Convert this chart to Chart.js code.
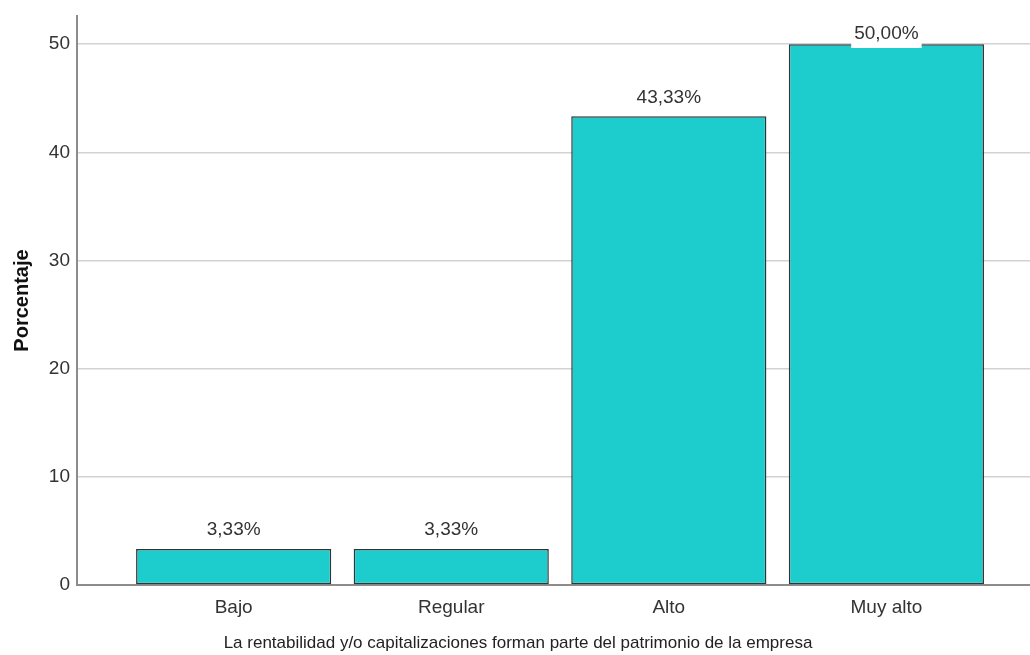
<!DOCTYPE html>
<html>
<head>
<meta charset="utf-8">
<script src="https://cdn.jsdelivr.net/npm/chart.js@4"></script>
<style>
  html, body { margin: 0; padding: 0; background: #fff; }
  #wrap { width: 1030px; height: 655px; }
</style>
</head>
<body>
<div id="wrap"><canvas id="chart" width="1030" height="655"></canvas></div>
<script>
// datos
const categorias = ['Bajo', 'Regular', 'Alto', 'Muy alto'];
const porcentajes = [3.33, 3.33, 43.33, 50.00];
const ticksY = [0, 10, 20, 30, 40, 50];
const tituloX = 'La rentabilidad y/o capitalizaciones forman parte del patrimonio de la empresa';
const tituloY = 'Porcentaje';

const fmt = v => v.toFixed(2).replace('.', ',') + '%';
const FONT = '"Liberation Sans", Arial, sans-serif';

// etiquetas encima de las barras (caja blanca) + titulo X centrado en el lienzo
const etiquetas = {
  id: 'etiquetas',
  afterDatasetsDraw(chart) {
    const ctx = chart.ctx;
    const meta = chart.getDatasetMeta(0);
    ctx.save();
    ctx.font = '19px ' + FONT;
    ctx.textAlign = 'center';
    ctx.textBaseline = 'middle';
    meta.data.forEach((bar, i) => {
      const txt = fmt(porcentajes[i]);
      const w = ctx.measureText(txt).width + 6;
      const y = Math.max(bar.y - 20, chart.chartArea.top + 17);
      ctx.fillStyle = '#fff';
      ctx.fillRect(bar.x - w / 2, y - 15, w, 30);
      ctx.fillStyle = '#333';
      ctx.fillText(txt, bar.x, y + 1);
    });
    // titulo del eje X (SPSS lo centra en todo el grafico)
    ctx.font = '17px ' + FONT;
    ctx.fillStyle = '#222';
    ctx.fillText(tituloX, chart.width / 2 + 3, chart.height - 12);
    ctx.restore();
  }
};

new Chart(document.getElementById('chart').getContext('2d'), {
  type: 'bar',
  data: {
    datasets: [{
      data: categorias.map((c, i) => ({ x: i, y: porcentajes[i] })),
      backgroundColor: '#1dcdcd',
      borderColor: '#333',
      borderWidth: 1.5,
      borderSkipped: false,
      categoryPercentage: 1,
      barPercentage: 0.897
    }]
  },
  options: {
    responsive: false,
    animation: false,
    layout: { padding: { top: 16, right: 0, left: 0, bottom: 0 } },
    plugins: { legend: { display: false }, tooltip: { enabled: false } },
    scales: {
      x: {
        type: 'linear',
        offset: false,
        min: -0.72,
        max: 3.66,
        afterBuildTicks: s => { s.ticks = categorias.map((c, i) => ({ value: i })); },
        afterFit: s => { s.height = 70; },
        grid: { display: false },
        border: { display: true, color: '#8c8c8c', width: 2 },
        ticks: {
          color: '#333',
          font: { family: FONT, size: 19 },
          padding: 3,
          autoSkip: false,
          maxRotation: 0,
          callback: v => categorias[v] ?? ''
        }
      },
      y: {
        min: 0,
        max: 52.6,
        afterBuildTicks: s => { s.ticks = ticksY.map(v => ({ value: v })); },
        afterFit: s => { s.width = 77; s.paddingTop = 0; s.paddingBottom = 0; },
        grid: { color: '#d2d2d2', lineWidth: 1.5, drawTicks: false },
        border: { display: true, color: '#8c8c8c', width: 2 },
        ticks: {
          color: '#333',
          font: { family: FONT, size: 19 },
          padding: 7
        },
        title: {
          display: true,
          text: tituloY,
          color: '#111',
          font: { family: FONT, size: 20, weight: 'bold' },
          padding: { top: 10, bottom: 0 }
        }
      }
    }
  },
  plugins: [etiquetas]
});
</script>
</body>
</html>
